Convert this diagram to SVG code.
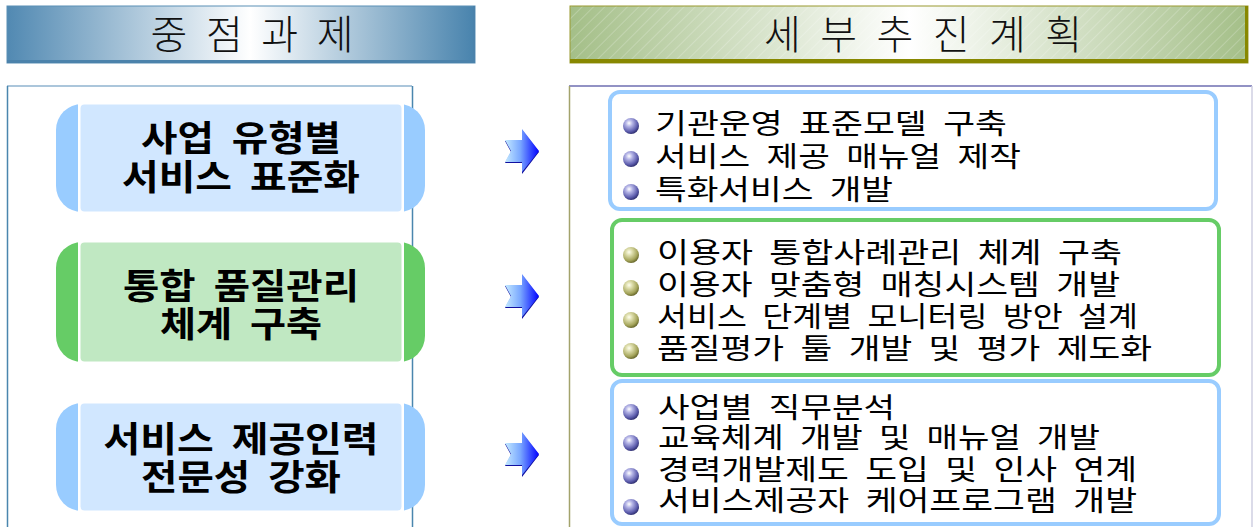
<svg xmlns="http://www.w3.org/2000/svg" width="1254" height="527" viewBox="0 0 1254 527">
  <defs>
    <style>
      .hdr { font-family: "Noto Sans CJK KR", "Noto Sans", sans-serif; font-size: 40px; font-weight: 300; fill: #111; text-anchor: middle; }
      .node { font-family: "Noto Sans CJK KR", "Noto Sans", sans-serif; font-size: 35px; font-weight: bold; fill: #000; text-anchor: middle; word-spacing: 8px; }
      .item { font-family: "Noto Sans CJK KR", "Noto Sans", sans-serif; font-size: 28px; font-weight: normal; fill: #000; word-spacing: 7px; }
      .box-blue { fill: none; stroke: #99ccff; stroke-width: 4; }
      .box-green { fill: none; stroke: #66cc66; stroke-width: 4; }
      .cap-blue { fill: #99ccff; }
      .cap-green { fill: #66cc66; }
      .in-blue { fill: #d1e7ff; }
      .in-green { fill: #c0e8c2; }
    </style>
    <linearGradient id="gHdr1" x1="0" y1="0" x2="1" y2="0">
      <stop offset="0" stop-color="#5189b2"/>
      <stop offset="0.52" stop-color="#ffffff"/>
      <stop offset="1" stop-color="#4883ad"/>
    </linearGradient>
    <linearGradient id="gHdr2" x1="0" y1="0" x2="1" y2="0">
      <stop offset="0" stop-color="#a4bf88"/>
      <stop offset="0.5" stop-color="#ffffff"/>
      <stop offset="1" stop-color="#a4bf88"/>
    </linearGradient>
    <pattern id="pStripe" width="8" height="8" patternUnits="userSpaceOnUse" patternTransform="rotate(45)">
      <line x1="0" y1="0" x2="0" y2="8" stroke="#ffffff" stroke-width="1.2" stroke-opacity="0.35"/>
    </pattern>
    <linearGradient id="gArrow" x1="0" y1="0" x2="1" y2="0">
      <stop offset="0" stop-color="#c4eaff"/>
      <stop offset="0.45" stop-color="#7aa8ff"/>
      <stop offset="1" stop-color="#0000ff"/>
    </linearGradient>
    <radialGradient id="gBallBlue" cx="0.38" cy="0.32" r="0.7">
      <stop offset="0" stop-color="#ffffff"/>
      <stop offset="0.3" stop-color="#b4b4e6"/>
      <stop offset="0.75" stop-color="#5e5eae"/>
      <stop offset="1" stop-color="#2e2e70"/>
    </radialGradient>
    <radialGradient id="gBallOlive" cx="0.38" cy="0.32" r="0.7">
      <stop offset="0" stop-color="#ffffee"/>
      <stop offset="0.3" stop-color="#dcdcaa"/>
      <stop offset="0.75" stop-color="#a4a45a"/>
      <stop offset="1" stop-color="#66662a"/>
    </radialGradient>
    <g id="arrow">
      <polygon points="0,-10 17,-10 17,-21 34,1 17,23 17,12 0,12 6,1" fill="#1010a0"/>
      <polygon points="0,-11 17,-11 17,-22 34,0 17,21 17,11 0,11 6,0" fill="url(#gArrow)"/>
    </g>
    <circle id="ballBlue" r="8" fill="url(#gBallBlue)"/>
    <circle id="ballOlive" r="8" fill="url(#gBallOlive)"/>
  </defs>

  <rect width="1254" height="527" fill="#ffffff"/>

  <!-- Header 1 -->
  <g id="header-left">
    <rect x="7" y="6" width="468" height="57" fill="url(#gHdr1)"/>
    <rect x="7" y="6" width="468" height="57" fill="none" stroke="#5a8fb6" stroke-width="1"/>
    <rect x="7" y="60" width="468" height="3" fill="#4b82ab"/>
    <rect x="473" y="6" width="2" height="57" fill="#4b82ab"/>
    <text class="hdr" x="252" y="49" textLength="203" lengthAdjust="spacing">중 점 과 제</text>
  </g>

  <!-- Header 2 -->
  <g id="header-right">
    <rect x="570" y="6" width="678" height="57" fill="url(#gHdr2)"/>
    <rect x="570" y="6" width="678" height="57" fill="url(#pStripe)"/>
    <rect x="570" y="6" width="678" height="57" fill="none" stroke="#9a9a30" stroke-width="1"/>
    <rect x="570" y="59" width="678" height="4" fill="#888800"/>
    <rect x="1245" y="6" width="3" height="57" fill="#888800"/>
    <text class="hdr" x="923" y="49" textLength="318" lengthAdjust="spacing">세 부 추 진 계 획</text>
  </g>

  <!-- Panel frames -->
  <g id="panel-left">
    <line x1="7" y1="86" x2="412" y2="86" stroke="#8fb3cf" stroke-width="1.5"/>
    <line x1="7.5" y1="86" x2="7.5" y2="527" stroke="#4a86ae" stroke-width="1.5"/>
    <line x1="412.5" y1="86" x2="412.5" y2="527" stroke="#4a86ae" stroke-width="1.5"/>
  </g>
  <g id="panel-right">
    <line x1="569" y1="86" x2="1252" y2="86" stroke="#6e6eb0" stroke-width="1.5"/>
    <line x1="569.5" y1="86" x2="569.5" y2="527" stroke="#a3a36c" stroke-width="1.5"/>
    <line x1="1252" y1="86" x2="1252" y2="527" stroke="#cfcfe2" stroke-width="1.5"/>
  </g>

  <!-- Left nodes -->
  <g id="node-standardize">
    <rect x="56" y="104" width="369" height="108" rx="26" class="cap-blue"/>
    <rect x="78" y="104" width="326" height="108" fill="#ffffff"/>
    <rect x="80.5" y="104.5" width="321" height="107" rx="4" class="in-blue"/>
    <text class="node" x="241" y="151" textLength="200" lengthAdjust="spacingAndGlyphs">사업 유형별</text>
    <text class="node" x="241" y="190" textLength="238" lengthAdjust="spacingAndGlyphs">서비스 표준화</text>
  </g>
  <g id="node-quality">
    <rect x="56" y="242" width="369" height="120" rx="26" class="cap-green"/>
    <rect x="78" y="242" width="326" height="120" fill="#ffffff"/>
    <rect x="80.5" y="242.5" width="321" height="119" rx="4" class="in-green"/>
    <text class="node" x="241" y="299" textLength="236" lengthAdjust="spacingAndGlyphs">통합 품질관리</text>
    <text class="node" x="241" y="337" textLength="162" lengthAdjust="spacingAndGlyphs">체계 구축</text>
  </g>
  <g id="node-workforce">
    <rect x="56" y="403" width="369" height="108" rx="26" class="cap-blue"/>
    <rect x="78" y="403" width="326" height="108" fill="#ffffff"/>
    <rect x="80.5" y="403.5" width="321" height="107" rx="4" class="in-blue"/>
    <text class="node" x="241" y="452" textLength="275" lengthAdjust="spacingAndGlyphs">서비스 제공인력</text>
    <text class="node" x="241" y="490" textLength="200" lengthAdjust="spacingAndGlyphs">전문성 강화</text>
  </g>

  <!-- Connectors -->
  <g id="connectors">
    <use href="#arrow" x="505" y="151"/>
    <use href="#arrow" x="505" y="296"/>
    <use href="#arrow" x="505" y="454"/>
  </g>

  <!-- Right boxes -->
  <g id="plan-standardize">
    <rect x="610" y="92" width="606" height="117" rx="10" class="box-blue"/>
    <use href="#ballBlue" x="631" y="126"/>
    <use href="#ballBlue" x="631" y="159"/>
    <use href="#ballBlue" x="631" y="192"/>
    <text class="item" x="655" y="134" textLength="352" lengthAdjust="spacingAndGlyphs">기관운영 표준모델 구축</text>
    <text class="item" x="655" y="167" textLength="366" lengthAdjust="spacingAndGlyphs">서비스 제공 매뉴얼 제작</text>
    <text class="item" x="655" y="200" textLength="238" lengthAdjust="spacingAndGlyphs">특화서비스 개발</text>
  </g>
  <g id="plan-quality">
    <rect x="612" y="220" width="607" height="155" rx="10" class="box-green"/>
    <use href="#ballOlive" x="631" y="255"/>
    <use href="#ballOlive" x="631" y="288"/>
    <use href="#ballOlive" x="631" y="320"/>
    <use href="#ballOlive" x="631" y="351"/>
    <text class="item" x="657" y="263" textLength="465" lengthAdjust="spacingAndGlyphs">이용자 통합사례관리 체계 구축</text>
    <text class="item" x="657" y="295" textLength="463" lengthAdjust="spacingAndGlyphs">이용자 맞춤형 매칭시스템 개발</text>
    <text class="item" x="657" y="327" textLength="481" lengthAdjust="spacingAndGlyphs">서비스 단계별 모니터링 방안 설계</text>
    <text class="item" x="657" y="359" textLength="495" lengthAdjust="spacingAndGlyphs">품질평가 툴 개발 및 평가 제도화</text>
  </g>
  <g id="plan-workforce">
    <rect x="612" y="381" width="607" height="143" rx="10" class="box-blue"/>
    <use href="#ballBlue" x="631" y="412"/>
    <use href="#ballBlue" x="631" y="443"/>
    <use href="#ballBlue" x="631" y="476"/>
    <use href="#ballBlue" x="631" y="507"/>
    <text class="item" x="658" y="418" textLength="237" lengthAdjust="spacingAndGlyphs">사업별 직무분석</text>
    <text class="item" x="658" y="448" textLength="442" lengthAdjust="spacingAndGlyphs">교육체계 개발 및 매뉴얼 개발</text>
    <text class="item" x="658" y="480" textLength="479" lengthAdjust="spacingAndGlyphs">경력개발제도 도입 및 인사 연계</text>
    <text class="item" x="658" y="511" textLength="479" lengthAdjust="spacingAndGlyphs">서비스제공자 케어프로그램 개발</text>
  </g>
</svg>
